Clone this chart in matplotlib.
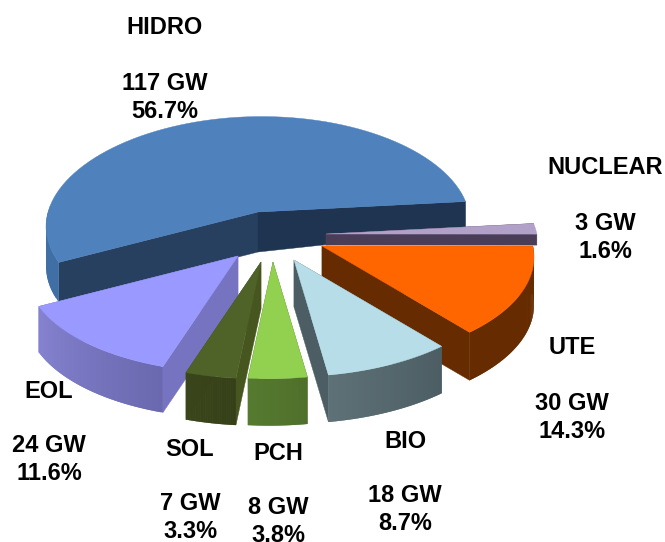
import matplotlib
matplotlib.use("Agg")
import matplotlib.pyplot as plt
import numpy as np

plt.rcParams['font.family'] = ['Liberation Sans', 'DejaVu Sans']

# data, clockwise from the back right of the pie
names = ['NUCLEAR', 'UTE', 'BIO', 'PCH', 'SOL', 'EOL', 'HIDRO']
gw = [3, 30, 18, 8, 7, 24, 117]
pct = [1.6, 14.3, 8.7, 3.8, 3.3, 11.6, 56.7]

# styles and layout, same order as the data
tops = ['#B1A0C7', '#FF6600', '#B7DEE8', '#92D050', '#4F6228', '#9999FF', '#4F81BD']
wall_a = ['#403152', '#662C00', '#4C5E64', '#4F702B', '#364018', '#6A68AE', '#3F6FA5']
wall_b = ['#403152', '#662C00', '#5E7177', '#567A30', '#3A451B', '#8583D0', '#3F6FA5']
face_start = ['#4A3D58', '#662C00', '#4C5E64', '#4F702B', '#47561F', '#7674C0', '#27405F']
face_end = ['#4A3D58', '#662C00', '#4C5E64', '#4F702B', '#47561F', '#7674C0', '#1E3450']
apex = [(326, 234), (322, 246), (294, 260), (273, 262), (261, 262), (238, 256), (258, 212)]
depth = [11, 48, 47, 47, 47, 46, 40]
depth_end = [11, 48, 47, 47, 47, 46, 28]
label_pos = [(605, 168), (572, 348), (405, 441), (278, 453), (190, 449), (49, 391), (165, 28)]

start_angle = -11.7
rx, ry, k = 212, 105, 0.10

# how far the 3D view moves each angle, read from the slice corners
warp_phi = [0, 57, 88.6, 102, 114, 156, 360]
warp_deg = [0, 0.3, 3.8, 6.2, 8.3, 15.8, 0]


def project(theta):
    t = np.radians(theta + np.interp(theta - start_angle, warp_phi, warp_deg))
    shift = np.radians(-1 + 7 * np.cos(t))
    return rx * np.cos(t), ry * np.sin(t + shift) / (1 - k * np.sin(t))


fig = plt.figure(figsize=(6.65, 5.42), dpi=100)
ax = fig.add_axes([0, 0, 1, 1])
ax.set_xlim(0, 665)
ax.set_ylim(542, 0)
ax.axis('off')

# back to front
order = [6, 0, 1, 2, 5, 4, 3]
edges = start_angle + np.cumsum([0] + [p * 3.6 for p in pct])

for i in order:
    ax0, ay0 = apex[i]
    d = depth[i]
    th = np.linspace(edges[i], edges[i + 1], 80)
    px, py = project(th)
    x = ax0 + px
    y = ay0 + py

    # cut faces
    ax.fill([ax0, x[0], x[0], ax0], [ay0, y[0], y[0] + d, ay0 + d], color=face_start[i], lw=0.3)
    ax.fill([ax0, x[-1], x[-1], ax0], [ay0, y[-1], y[-1] + depth_end[i], ay0 + d], color=face_end[i], lw=0.3)

    # outer wall, darker on the right, back part stays hidden
    ca = np.array(matplotlib.colors.to_rgb(wall_a[i]))
    cb = np.array(matplotlib.colors.to_rgb(wall_b[i]))
    last = len(th) - 1
    for n in range(last):
        if py[n] < 0:
            continue
        m = min(n + 2, last)
        c = ca + (cb - ca) * n / (last - 1)
        ax.fill([x[n], x[m], x[m], x[n]],
                [y[n], y[m], y[m] + d, y[n] + d], color=tuple(c), lw=0)

    # top
    ax.fill(np.r_[ax0, x], np.r_[ay0, y], color=tops[i], lw=0.3)

# labels
for i in range(len(names)):
    lx, ly = label_pos[i]
    ax.text(lx, ly, names[i], ha='center', va='center', fontsize=17, fontweight='bold')
    ax.text(lx, ly + 55, f'{gw[i]} GW', ha='center', va='center', fontsize=17, fontweight='bold')
    ax.text(lx, ly + 83, f'{pct[i]}%', ha='center', va='center', fontsize=17, fontweight='bold')

fig.savefig('out.png', dpi=100)
